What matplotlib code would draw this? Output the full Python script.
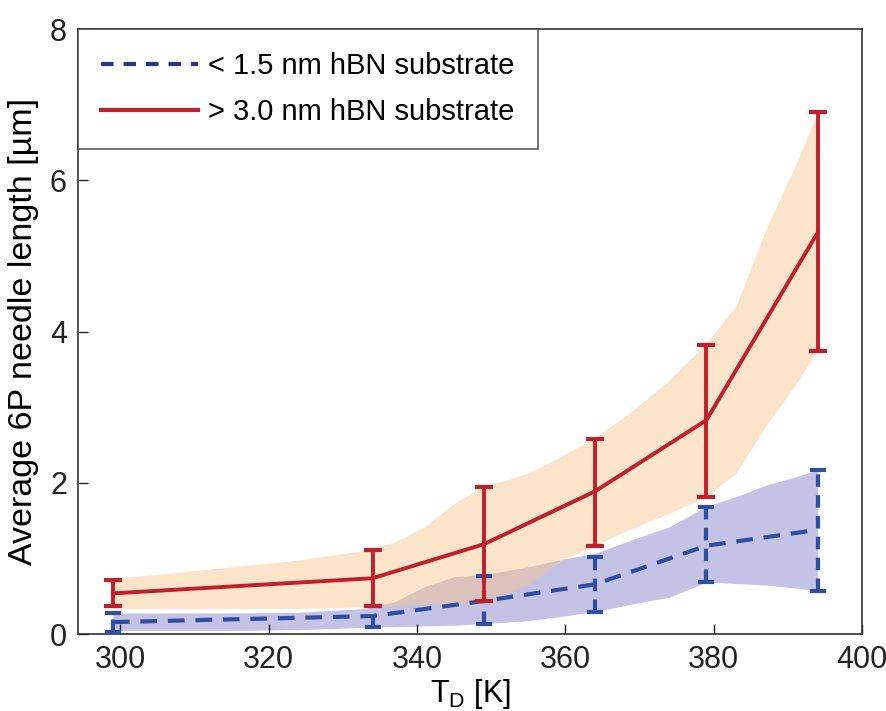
import matplotlib
matplotlib.use("Agg")
import matplotlib.pyplot as plt
from matplotlib.lines import Line2D
import numpy as np

plt.rcParams['font.family'] = ['Liberation Sans', 'DejaVu Sans']

# Measurement temperatures [K]
T = [299, 334, 349, 364, 379, 394]

# > 3.0 nm hBN substrate (red)
thick_mean = [0.54, 0.74, 1.19, 1.89, 2.83, 5.31]
thick_low = [0.37, 0.37, 0.44, 1.17, 1.81, 3.75]
thick_high = [0.72, 1.11, 1.95, 2.58, 3.83, 6.90]

# < 1.5 nm hBN substrate (blue)
thin_mean = [0.16, 0.24, 0.44, 0.66, 1.17, 1.38]
thin_low = [0.03, 0.10, 0.13, 0.29, 0.69, 0.57]
thin_high = [0.28, 0.37, 0.77, 1.02, 1.68, 2.17]

# Shaded bands
band_T = [299, 306, 315, 324, 333, 337, 341, 345, 349, 355, 359, 364, 369, 374, 379, 383, 387, 391, 394]
thick_band_high = [0.74, 0.80, 0.89, 0.98, 1.11, 1.22, 1.42, 1.73, 1.95, 2.13, 2.33, 2.60, 2.95, 3.36, 3.85, 4.34, 5.35, 6.20, 6.90]
thick_band_low = [0.34, 0.34, 0.34, 0.34, 0.36, 0.38, 0.40, 0.41, 0.42, 0.66, 0.95, 1.18, 1.40, 1.60, 1.82, 2.13, 2.75, 3.30, 3.76]
thin_band_high = [0.28, 0.28, 0.28, 0.29, 0.34, 0.43, 0.63, 0.76, 0.79, 0.89, 0.98, 1.07, 1.25, 1.42, 1.69, 1.82, 1.97, 2.08, 2.17]
thin_band_low = [0.05, 0.05, 0.05, 0.06, 0.09, 0.10, 0.11, 0.12, 0.14, 0.18, 0.23, 0.30, 0.40, 0.49, 0.69, 0.67, 0.65, 0.61, 0.58]

labels = ['< 1.5 nm hBN substrate', '> 3.0 nm hBN substrate']

red = '#C01F2C'
blue = '#2F4FA0'
navy = '#2B3488'

fig = plt.figure(figsize=(8.87, 7.11), dpi=100)
ax = fig.add_axes([0.088, 0.108, 0.884, 0.851])

ax.fill_between(band_T, thin_band_low, thin_band_high, color='#8C88CC', alpha=0.5, lw=0, zorder=1)
ax.fill_between(band_T, thick_band_low, thick_band_high, color='#F8C48A', alpha=0.45, lw=0, zorder=2)

tm = np.array(thin_mean)
eb1 = ax.errorbar(T, thin_mean, yerr=[tm - np.array(thin_low), np.array(thin_high) - tm],
                  color=blue, ls=(0, (4, 2.6)), lw=3, capsize=6, capthick=3, elinewidth=3, zorder=4)
for lc in eb1[2]:
    lc.set_linestyle((0, (3, 2)))

km = np.array(thick_mean)
ax.errorbar(T, thick_mean, yerr=[km - np.array(thick_low), np.array(thick_high) - km],
            color=red, ls='-', lw=2.8, capsize=6.5, capthick=3, elinewidth=2.8, zorder=5)

ax.set_xlim(294.3, 400)
ax.set_ylim(0, 8)
ax.set_xticks([300, 320, 340, 360, 380, 400])
ax.set_yticks([0, 2, 4, 6, 8])
ax.tick_params(direction='in', labelsize=22, length=7, width=1, pad=8, colors='#222222')
for s in ax.spines.values():
    s.set_linewidth(1.2)
    s.set_color('#333333')

ax.set_xlabel('T$_\\mathregular{D}$ [K]', fontsize=22, labelpad=1)
ax.set_ylabel('Average 6P needle length [µm]', fontsize=24.5, labelpad=8)

handles = [Line2D([], [], color=navy, ls=(0, (3, 2.4)), lw=3),
           Line2D([], [], color=red, ls='-', lw=3)]
leg = ax.legend(handles, labels, loc='upper left', fontsize=21, frameon=True, fancybox=False,
                borderaxespad=0, handlelength=3.3, handletextpad=0.35, borderpad=0.8,
                labelspacing=0.6)
leg.get_frame().set_edgecolor('#333333')
leg.get_frame().set_linewidth(1.2)

fig.savefig('out.png', dpi=100)
